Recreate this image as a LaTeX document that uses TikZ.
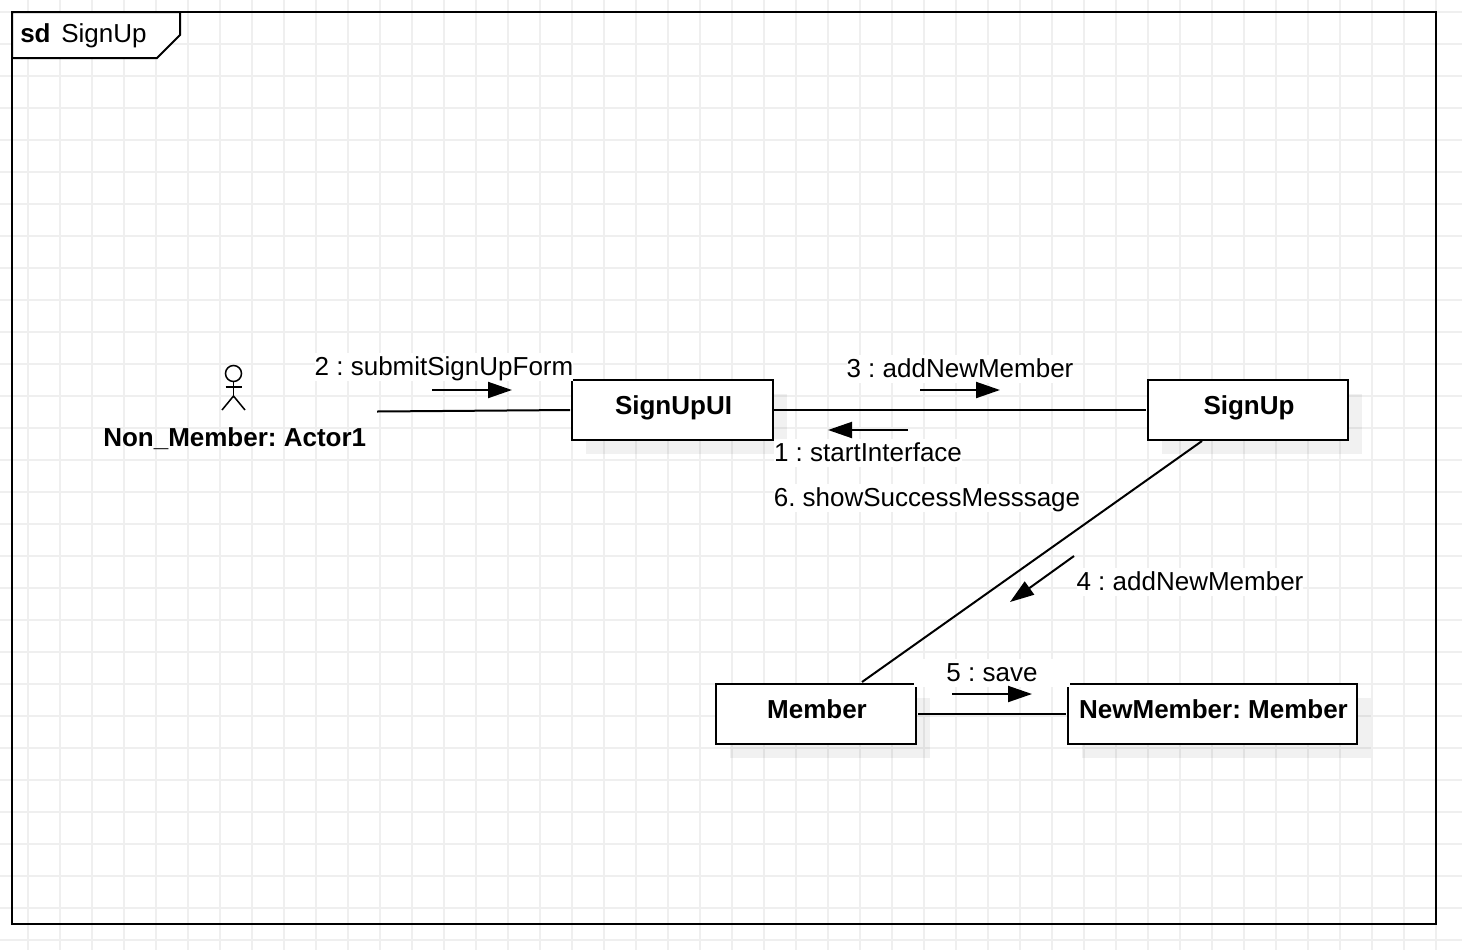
\documentclass[tikz,border=0pt]{standalone}
\usepackage{fontspec}
\setmainfont{Liberation Sans}
\usetikzlibrary{arrows.meta}
\definecolor{gridc}{HTML}{EFEFEF}
\frenchspacing
\tikzset{
  x=0.75pt,y=-0.75pt,
  gridline/.style={draw=gridc,line width=1.5pt},
  ink/.style={draw=black,line width=1.5pt},
  shadowbox/.style={fill=black,fill opacity=0.055,draw=none},
  objbox/.style={draw=black,line width=1.5pt,fill=white,inner sep=0pt,minimum height=45pt,
    font=\frenchspacing\fontsize{19.5pt}{23pt}\bfseries\selectfont,text height=6pt,text depth=0pt},
  msg/.style={fill=white,inner sep=0pt,minimum height=21pt,
    font=\frenchspacing\fontsize{19.5pt}{23pt}\selectfont,text height=12pt,text depth=0pt},
  plain/.style={inner sep=0pt,anchor=base west,font=\frenchspacing\fontsize{19.5pt}{23pt}\selectfont},
  link/.style={draw=black,line width=1.5pt},
  flow/.style={draw=black,line width=1.5pt,-{Triangle[length=18pt,width=12pt]}},
  stick/.style={draw=black,line width=1.15pt},
}
\begin{document}
\begin{tikzpicture}
\useasboundingbox (0,0) rectangle (1462,950);
\fill[white] (0,0) rectangle (1462,950);
% grid
\foreach \gx in {28,60,...,1460} {\draw[gridline] (\gx,0) -- (\gx,950);}
\foreach \gy in {12,44,...,940} {\draw[gridline] (0,\gy) -- (1462,\gy);}
% frame
\draw[ink] (12,12) rectangle (1436,924);
\draw[ink,fill=white] (12,12) -- (180,12) -- (180,35) -- (157,58) -- (12,58) -- cycle;
\node[plain,font=\fontsize{19.5pt}{23pt}\bfseries\selectfont] (sdkw) at (20,42) {sd};
\node[plain] (sdname) at (61,42) {SignUp};
% shadows
\fill[shadowbox] (586,394) rectangle (787,454);
\fill[shadowbox] (1162,394) rectangle (1362,454);
\fill[shadowbox] (730,698) rectangle (930,758);
\fill[shadowbox] (1082,698) rectangle (1371,758);
% objects
\node[objbox,minimum width=150.75pt] (ui) at (672.5,410) {\hspace*{1.5pt}SignUpUI};
\node[objbox,minimum width=150pt] (su) at (1248,410) {\hspace*{1.5pt}SignUp};
\node[objbox,minimum width=150pt] (mem) at (816,714) {\hspace*{1.5pt}Member};
\node[objbox,minimum width=216.75pt] (nm) at (1212.5,714) {\hspace*{1.5pt}NewMember: Member};
% actor
\draw[stick] (233.5,373.5) circle[radius=8] coordinate (head);
\draw[stick] (233.5,381.5) -- (233.5,396) coordinate (hip);
\draw[stick] (225.5,387) -- (242,387);
\draw[stick] (222,410) -- (hip) -- (245,410);
\node[plain,font=\frenchspacing\fontsize{19.5pt}{23pt}\bfseries\selectfont] (actor) at (103,446) {Non\_Member: Actor1};
% message labels
\node[msg] (m2) at (444,367) {2 : submitSignUpForm};
\node[msg] (m3) at (960,369) {3 : addNewMember};
\node[msg] (m1) at (868,453) {1 : startInterface};
\node[msg] (m6) at (927,498) {6. showSuccessMesssage};
\node[msg] (m4) at (1190,582) {4 : addNewMember};
\node[msg,minimum width=117pt] (m5) at (992,673) {5 : save};
% connectors
\coordinate (actorport) at (377,411.5);
\coordinate (uiw) at ([xshift=-0.75pt]ui.west);
\coordinate (uie) at (ui.east);
\coordinate (suw) at ([xshift=-0.75pt]su.west);
\coordinate (sub) at (1202,441);
\coordinate (memt) at (862,682);
\coordinate (meme) at ([xshift=0.75pt]mem.east);
\coordinate (nmw) at ([xshift=-0.75pt]nm.west);
\draw[link] (actorport) -- (uiw);
\draw[link] (uie) -- (suw);
\draw[link] (sub) -- (memt);
\draw[link] (meme) -- (nmw);
% message arrows
\coordinate (a2s) at (432,390); \coordinate (a2e) at (512,390);
\coordinate (a3s) at (920,390); \coordinate (a3e) at (1000,390);
\coordinate (a1s) at (908,430); \coordinate (a1e) at (828,430);
\coordinate (a4s) at (1074,556); \coordinate (a4e) at (1010,602);
\coordinate (a5s) at (952,694); \coordinate (a5e) at (1032,694);
\draw[flow] (a2s) -- (a2e);
\draw[flow] (a3s) -- (a3e);
\draw[flow] (a1s) -- (a1e);
\draw[flow] (a4s) -- (a4e);
\draw[flow] (a5s) -- (a5e);
\end{tikzpicture}
\end{document}
